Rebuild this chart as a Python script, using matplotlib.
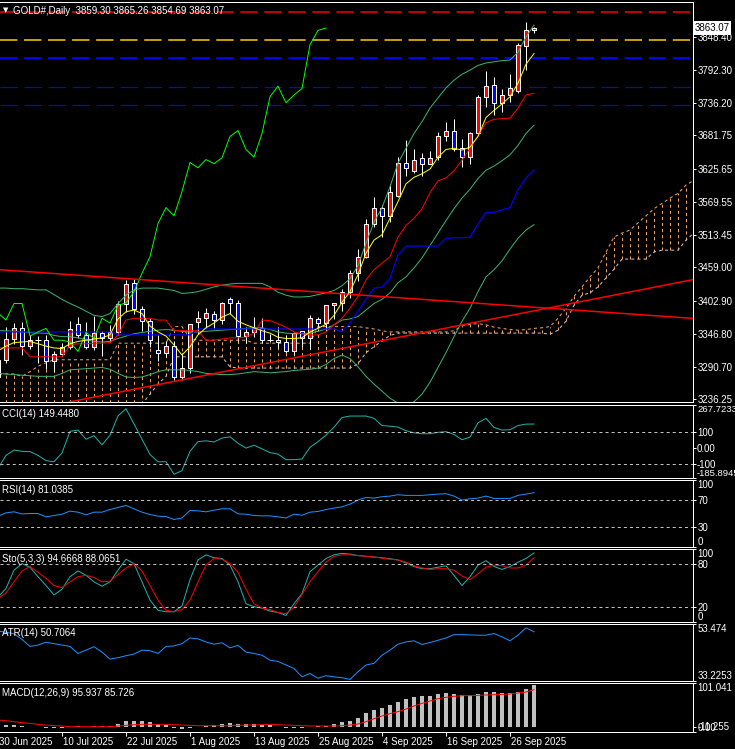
import matplotlib
matplotlib.use("Agg")
import matplotlib.pyplot as plt
from matplotlib.patches import Rectangle

plt.rcParams['font.family'] = ['Liberation Sans', 'DejaVu Sans']
plt.rcParams['lines.scale_dashes'] = False
plt.rcParams['font.size'] = 7

# ---- price data (GOLD#, Daily), bar 0 = 30 Jun 2025 ----
opens = [3274, 3303, 3338, 3357, 3326, 3337, 3336, 3301, 3313, 3324,
         3364, 3345, 3325, 3349, 3339, 3350, 3397, 3432, 3388, 3369,
         3320, 3315, 3327, 3274, 3289, 3367, 3374, 3381, 3370, 3405,
         3398, 3343, 3350, 3356, 3336, 3336, 3333, 3317, 3351, 3339,
         3371, 3365, 3395, 3399, 3418, 3449, 3477, 3533, 3560, 3546,
         3580, 3636, 3622, 3643, 3633, 3645, 3680, 3690, 3660, 3645,
         3686, 3747, 3767, 3737, 3750, 3757, 3833, 3859.30]
highs = [3305, 3358, 3365, 3366, 3345, 3343, 3345, 3318, 3331, 3369,
         3375, 3366, 3377, 3352, 3361, 3402, 3438, 3440, 3394, 3374,
         3345, 3334, 3334, 3315, 3364, 3385, 3390, 3385, 3400, 3409,
         3404, 3358, 3375, 3374, 3347, 3358, 3345, 3350, 3351, 3379,
         3376, 3394, 3398, 3423, 3454, 3490, 3540, 3578, 3564, 3600,
         3646, 3674, 3658, 3652, 3656, 3688, 3705, 3709, 3675, 3687,
         3750, 3791, 3780, 3760, 3785, 3838, 3873, 3865.26]
lows = [3247, 3297, 3330, 3311, 3322, 3297, 3287, 3283, 3309, 3321,
        3340, 3321, 3320, 3310, 3333, 3345, 3383, 3381, 3351, 3325,
        3301, 3308, 3268, 3268, 3281, 3346, 3357, 3356, 3364, 3381,
        3335, 3331, 3342, 3332, 3333, 3323, 3315, 3311, 3324, 3322,
        3352, 3351, 3372, 3385, 3407, 3436, 3475, 3527, 3511, 3536,
        3578, 3613, 3619, 3613, 3633, 3640, 3672, 3655, 3628, 3634,
        3684, 3730, 3717, 3722, 3738, 3753, 3793, 3854.69]
closes = [3303, 3338, 3357, 3326, 3337, 3336, 3301, 3313, 3324, 3355,
          3345, 3325, 3348, 3339, 3350, 3397, 3431, 3388, 3369, 3336,
          3315, 3327, 3274, 3289, 3363, 3374, 3382, 3370, 3398, 3398,
          3343, 3350, 3356, 3336, 3336, 3333, 3317, 3349, 3339, 3373,
          3365, 3395, 3399, 3418, 3449, 3477, 3533, 3560, 3546, 3587,
          3636, 3627, 3641, 3634, 3644, 3680, 3690, 3658, 3645, 3685,
          3747, 3765, 3737, 3750, 3761, 3835, 3859, 3863.07]

# ---- main chart indicators ----
ma_fast = [3318, 3326, 3332, 3333, 3334, 3330, 3326, 3323, 3322, 3330,
           3334, 3336, 3338, 3340, 3345, 3372, 3384, 3387, 3381, 3360,
           3350, 3343, 3328, 3311, 3325, 3345, 3357, 3365, 3375, 3381,
           3368, 3362, 3357, 3352, 3348, 3341, 3339, 3339, 3340, 3350,
           3356, 3363, 3378, 3400, 3418, 3447, 3483, 3505, 3514, 3542,
           3570, 3600, 3611, 3617, 3625, 3645, 3658, 3660, 3657, 3662,
           3680, 3712, 3724, 3735, 3747, 3770, 3802, 3820]
tenkan = [3323, 3323, 3323, 3323, 3308, 3308, 3308, 3308, 3308, 3328,
          3330, 3330, 3331, 3331, 3332, 3345, 3370, 3373, 3373, 3373,
          3370, 3370, 3352, 3352, 3352, 3352, 3336, 3336, 3338, 3340,
          3340, 3341, 3348, 3370, 3369, 3364, 3358, 3350, 3347, 3345,
          3345, 3350, 3362, 3373, 3390, 3410, 3438, 3455, 3466, 3477,
          3510, 3530, 3542, 3558, 3585, 3605, 3610, 3622, 3640, 3660,
          3681, 3703, 3709, 3710, 3711, 3728, 3750, 3753]
kijun = [3350] * 15 + [3345] * 10 + [3355] * 18 + [
         3350, 3365, 3385, 3405, 3424, 3426, 3440, 3480, 3495, 3495,
         3495, 3495, 3495, 3508, 3509, 3509, 3510, 3532, 3552, 3552,
         3556, 3560, 3590, 3610, 3623]
bb_upper = [3424, 3424, 3423, 3423, 3422, 3421, 3421, 3413, 3405, 3398,
            3392, 3385, 3378, 3376, 3381, 3398, 3412, 3421, 3424, 3424,
            3424, 3422, 3420, 3415, 3416, 3418, 3422, 3426, 3429, 3431,
            3432, 3432, 3432, 3432, 3426, 3417, 3412, 3409, 3409, 3410,
            3413, 3416, 3420, 3428, 3440, 3462, 3500, 3535, 3560, 3595,
            3635, 3660, 3685, 3705, 3728, 3745, 3762, 3775, 3785, 3792,
            3800, 3804, 3806, 3808, 3809, 3822, 3848, 3868]
bb_middle = [3352, 3352, 3351, 3350, 3349, 3348, 3348, 3344, 3342, 3342,
             3340, 3337, 3334, 3333, 3334, 3339, 3343, 3347, 3349, 3351,
             3353, 3354, 3353, 3351, 3350, 3350, 3351, 3352, 3353, 3354,
             3355, 3356, 3357, 3357, 3354, 3350, 3348, 3347, 3347, 3348,
             3351, 3355, 3362, 3370, 3372, 3376, 3387, 3398, 3405, 3416,
             3433, 3443, 3458, 3475, 3496, 3517, 3538, 3558, 3576, 3591,
             3609, 3623, 3630, 3639, 3649, 3665, 3685, 3699]
bb_lower = [3280, 3279, 3278, 3277, 3276, 3275, 3275, 3275, 3280, 3286,
            3287, 3288, 3289, 3290, 3287, 3280, 3274, 3273, 3274, 3278,
            3283, 3286, 3286, 3286, 3285, 3283, 3280, 3279, 3278, 3278,
            3279, 3281, 3283, 3282, 3281, 3282, 3283, 3285, 3286, 3287,
            3289, 3295, 3305, 3311, 3305, 3291, 3275, 3262, 3250, 3238,
            3230, 3226, 3232, 3245, 3265, 3290, 3315, 3342, 3368, 3390,
            3418, 3443, 3455, 3470, 3490, 3508, 3522, 3531]
# Senkou spans as drawn (already shifted 26 bars ahead), positions 0..87
span_a = [3279, 3279, 3279, 3275, 3283, 3292, 3298, 3303, 3303, 3303,
          3303, 3303, 3303, 3303, 3303, 3331, 3331, 3331, 3331, 3331,
          3331, 3331, 3359, 3359, 3339, 3336, 3336, 3336, 3336, 3336,
          3336, 3336, 3331, 3331, 3331, 3331, 3331, 3331, 3331, 3331,
          3359, 3359, 3359, 3359, 3359, 3359, 3357, 3355, 3352, 3350,
          3350, 3350, 3350, 3350, 3350, 3350, 3350, 3352, 3360, 3363,
          3364, 3362, 3358, 3356, 3354, 3353, 3354, 3356, 3357, 3359,
          3373, 3390, 3410, 3426, 3443, 3458, 3485, 3510, 3517, 3522,
          3534, 3546, 3558, 3567, 3576, 3584, 3598, 3606]
span_b = [3200] * 18 + [
          3228, 3245, 3262, 3275, 3308, 3308, 3308, 3308, 3308, 3308,
          3308, 3291] + [3289] * 15 + [3296, 3315, 3325, 3335, 3344] + [3348] * 19 + [
          3346, 3353, 3368, 3395, 3412, 3416, 3426, 3441, 3456, 3473,
          3473, 3473, 3473, 3485, 3488, 3488, 3488, 3505, 3517]

# drawn objects: trendline anchors (bar, price) and horizontal levels
trend_down = [(0.25, 3455), (86.75, 3373)]
trend_up = [(9.0, 3232), (86.75, 3438)]
levels = [3889.6, 3842.4, 3812.0, 3763.0, 3732.6]
level_colors = ['#FF0000', '#FFD200', '#0000FF', '#0000FF', '#0000FF']
level_px = [1.5, 1.5, 2, 1.2, 1.2]

price_ticks = [3848.40, 3792.30, 3736.20, 3681.75, 3625.65, 3569.55,
               3513.45, 3459.00, 3402.90, 3346.80, 3290.70, 3236.25]

# ---- sub-window indicators ----
cci = [-127, -45, -12, -20, -22, -45, -78, -85, -30, 104,
       112, 55, 77, 20, 80, 200, 245, 150, 55, -40,
       -85, -85, -163, -140, -20, 40, 45, 38, 62, 70,
       30, 0, 18, -5, -28, -37, -72, -72, -68, 5,
       40, 80, 130, 190, 199, 199, 199, 185, 140, 136,
       130, 108, 95, 89, 89, 98, 102, 85, 52, 68,
       157, 185, 128, 112, 114, 140, 149, 149.448]
rsi = [46, 51, 52.5, 49.4, 50, 50, 45, 47, 49, 53.5,
       52, 48, 52, 52, 56, 59, 62, 57, 52, 48.5,
       46, 45.5, 41, 43.4, 54.5, 54, 52.5, 55, 57, 57,
       49.5, 49, 47, 46.5, 46.5, 45, 43.4, 49, 47.4, 52,
       53, 56, 58, 60, 64, 70, 74, 73, 75, 76,
       78, 77, 77, 77, 78, 79, 79.5, 76, 70, 72,
       73, 76, 72.5, 72.5, 72.5, 77, 79, 81.0385]
sto_main = [34, 46, 71, 80, 75, 62, 50, 37, 45, 62,
            70, 64, 55, 49, 55, 71, 86, 80, 55, 30,
            16, 14, 14, 22, 58, 85, 92, 88, 87, 78,
            55, 25, 21, 19, 15, 13, 9, 25, 39, 69,
            78, 87, 92, 94, 93, 91, 90, 89, 88, 86.6,
            85, 81, 76, 73, 73, 75, 77, 64, 50, 62,
            78, 84, 76, 72, 76, 82, 87, 94.6668]
sto_signal = [32, 40, 55, 70, 76, 68, 60, 50, 47, 55,
              62, 64, 61, 55, 56, 65, 74, 80, 70, 50,
              30, 16, 14, 17, 30, 55, 78, 87, 86, 80,
              68, 45, 25, 19, 17, 13, 11.5, 20, 38, 55,
              69, 82, 90, 92, 92, 91, 90, 89, 87.5, 86,
              85, 82, 77, 74, 72, 73, 73, 71, 63, 58,
              66, 75, 78, 77, 74, 74, 78, 88.0651]
atr = [51, 50.5, 50, 48, 45.5, 46, 47, 46.5, 46, 45.5,
       43, 44.2, 45.4, 43.5, 41, 41.5, 42.2, 42.8, 44.2, 44,
       43, 45.5, 45.7, 46.5, 48.5, 48.2, 47.1, 46.3, 46.8, 45,
       45.9, 43.5, 43, 42.4, 40.6, 40.2, 38.9, 37.7, 34.7, 35.9,
       34.2, 35.1, 34.7, 34.4, 33.8, 36.5, 38.9, 39.5, 42.4, 44.2,
       46.3, 47.1, 47.5, 46.2, 46.9, 47.7, 48.5, 49.7, 49.7, 49.6,
       49.5, 49.5, 50.1, 48.9, 47.5, 49.5, 52.1, 50.7064]
macd = [6, 5.5, 4.7, 3.2, 0.9, 0.9, -1.4, -2.1, -2.1, 0.2,
        1.7, 0.2, 1.7, 1.7, 1.7, 6.3, 13.9, 14.7, 14.7, 12.4,
        7.0, 4.7, -2.1, -4.4, -2.9, 0.9, 3.2, 4.7, 7.0, 8.6,
        6.3, 6.3, 6.3, 4.7, 4.7, 0.9, -2.1, -2.9, -2.1, 0.2,
        1.7, 3.2, 6.3, 12.4, 14.7, 21.5, 31.5, 39.1, 44.5, 50.6,
        58.2, 64.3, 68.9, 72, 72, 75.8, 78.8, 75.8, 73.5, 73.5,
        75.8, 79.6, 79.6, 77.3, 77.3, 81.1, 87.3, 95.937]
macd_signal = [16.2, 14.7, 12.4, 10.1, 8.6, 6.3, 4.7, 3.2, 2.5, 0.9,
               0.9, 0.9, 0.9, 0.9, 0.9, 2.5, 4.0, 5.5, 6.3, 6.3,
               6.3, 6.3, 5.5, 4.7, 4.0, 3.2, 3.2, 3.2, 3.2, 3.2,
               4.0, 4.7, 4.7, 5.5, 6.3, 5.5, 4.7, 4.0, 3.2, 2.5,
               2.5, 2.5, 2.5, 3.2, 4.7, 7.0, 12.4, 19.3, 25.4, 30.7,
               35.3, 41.4, 48.3, 54.4, 59.7, 65.1, 68.2, 70.4, 72, 72,
               72.7, 73.5, 74.3, 75, 75.8, 78.1, 80.4, 85.726]

date_labels = ['30 Jun 2025', '10 Jul 2025', '22 Jul 2025', '1 Aug 2025', '13 Aug 2025',
               '25 Aug 2025', '4 Sep 2025', '16 Sep 2025', '26 Sep 2025']
date_bars = [0, 8, 16, 24, 32, 40, 48, 56, 64]

# ---- figure ----
W, H = 735, 749
PX = 0.72  # one pixel in points at 100 dpi
fig = plt.figure(figsize=(W / 100, H / 100), dpi=100, facecolor='black')
bars = list(range(len(closes)))
dot = (0, (2.2, 2.2))


def pane(top, bottom):
    ax = fig.add_axes([0, 1 - bottom / H, 693 / W, (bottom - top) / H])
    ax.set_facecolor('black')
    for sp in ax.spines.values():
        sp.set_color('white')
        sp.set_linewidth(PX)
    ax.spines['left'].set_visible(False)
    ax.set_xticks([])
    ax.yaxis.tick_right()
    ax.tick_params(axis='y', colors='white', length=2.2, width=PX, pad=1.2, labelsize=7)
    return ax


def right_labels(ax, vals, texts, lo, hi, top_i=None, bot_i=None, edge_size=None):
    ax.set_yticks(vals)
    ax.set_yticklabels(texts)
    labs = ax.get_yticklabels()
    if top_i is not None:
        labs[top_i].set_va('top')
        if edge_size:
            labs[top_i].set_fontsize(edge_size)
    if bot_i is not None:
        labs[bot_i].set_va('bottom')
        if edge_size:
            labs[bot_i].set_fontsize(edge_size)
    ax.set_ylim(lo, hi)
    ax.set_xlim(0.25, 86.875)


# main window
ax = pane(2, 402)
span_x = list(range(len(span_a)))
for j in span_x:
    a, b = span_a[j], span_b[j]
    col = '#F4A460' if a >= b else '#D8BFD8'
    ax.vlines(j, min(a, b), max(a, b), colors=col, linestyles=dot, lw=PX, zorder=1)
ax.plot(span_x, span_a, color='#F4A460', ls=dot, lw=PX, zorder=2)
ax.plot(span_x, span_b, color='#D8BFD8', ls=dot, lw=PX, zorder=2)

for lv, c, w in zip(levels, level_colors, level_px):
    ax.axhline(lv, color=c, lw=w * PX, ls=(0, (12.5, 4.8)), zorder=2)

for i in bars:
    o, hi_, lo_, c = opens[i], highs[i], lows[i], closes[i]
    ax.vlines(i, lo_, hi_, colors='white', lw=PX, zorder=4)
    if abs(c - o) < 1.5:
        ax.hlines(c, i - 0.32, i + 0.32, colors='white', lw=PX, zorder=5)
    else:
        ax.add_patch(Rectangle((i - 0.31, min(o, c)), 0.62, abs(c - o),
                               facecolor='#FF0000' if c > o else '#0000FF',
                               edgecolor='white', lw=PX, zorder=5))

ax.plot(bars, bb_upper, color='#3CB371', lw=PX, zorder=6)
ax.plot(bars, bb_middle, color='#3CB371', lw=PX, zorder=6)
ax.plot(bars, bb_lower, color='#3CB371', lw=PX, zorder=6)
ax.plot(bars, kijun, color='#0000FF', lw=PX * 1.2, zorder=6)
ax.plot(bars, tenkan, color='#FF0000', lw=PX, zorder=6)
ax.plot(bars, ma_fast, color='#FFFF00', lw=PX, zorder=7)
ax.plot(bars[:len(closes) - 26], closes[26:], color='#00FF00', lw=PX, zorder=6)
ax.axline(trend_down[0], trend_down[1], color='#FF0000', lw=1.5 * PX, zorder=6)
ax.axline(trend_up[0], trend_up[1], color='#FF0000', lw=1.5 * PX, zorder=6)

right_labels(ax, price_ticks, ['%.2f' % p for p in price_ticks], 3231.7, 3907.0)
ax.text(1 + 1.5 / 693, closes[-1], '%.2f' % closes[-1], transform=ax.get_yaxis_transform(),
        color='black', va='center', ha='left', fontsize=7, clip_on=False, zorder=10,
        bbox=dict(facecolor='white', edgecolor='none', pad=1.2))

fig.text(3 / W, 1 - 10.5 / H, '\u25bc', color='white', fontsize=5, va='center',
         family=['DejaVu Sans'])
fig.text(13 / W, 1 - 10.7 / H, 'GOLD#,Daily  %.2f %.2f %.2f %.2f'
         % (opens[-1], highs[-1], lows[-1], closes[-1]), color='white', va='center', fontsize=7)

# CCI
ax = pane(405, 478)
ax.plot(bars, cci, color='#20B2AA', lw=PX)
for lv in (100, -100):
    ax.axhline(lv, color='#C0C0C0', lw=PX, ls=dot)
ax.tick_params(axis='y', pad=0.7)
right_labels(ax, [267.7233, 100, 0, -100, -185.8945],
             ['267.7233', '100', '0.00', '-100', '-185.8945'], -185.8945, 267.7233, 0, 4,
             edge_size=6.8)
fig.text(2 / W, 1 - 414 / H, 'CCI(14) %.4f' % cci[-1], color='white', va='center', fontsize=7)

# RSI
ax = pane(480, 547)
ax.plot(bars, rsi, color='#1E90FF', lw=PX)
for lv in (70, 30):
    ax.axhline(lv, color='#C0C0C0', lw=PX, ls=dot)
right_labels(ax, [100, 70, 30, 0], ['100', '70', '30', '0'], 0, 100, 0, 3)
fig.text(2 / W, 1 - 490 / H, 'RSI(14) %.4f' % rsi[-1], color='white', va='center', fontsize=7)

# Stochastic
ax = pane(549, 622)
ax.plot(bars, sto_main, color='#20B2AA', lw=PX)
ax.plot(bars, sto_signal, color='#FF0000', lw=PX)
for lv in (80, 20):
    ax.axhline(lv, color='#C0C0C0', lw=PX, ls=dot)
right_labels(ax, [100, 80, 20, 0], ['100', '80', '20', '0'], 0, 100, 0, 3)
fig.text(2 / W, 1 - 559 / H, 'Sto(5,3,3) %.4f %.4f' % (sto_main[-1], sto_signal[-1]),
         color='white', va='center', fontsize=7)

# ATR
ax = pane(624, 681)
ax.plot(bars, atr, color='#1E90FF', lw=PX)
right_labels(ax, [53.474, 33.2253], ['53.474', '33.2253'], 33.2253, 53.474, 0, 1)
fig.text(2 / W, 1 - 633 / H, 'ATR(14) %.4f' % atr[-1], color='white', va='center', fontsize=7)

# MACD
ax = pane(683, 732)
ax.bar(bars, macd, width=0.4, color='#C0C0C0', zorder=2)
ax.plot(bars, macd_signal, color='#FF0000', lw=PX, zorder=3)
right_labels(ax, [101.041, 0, -11.255], ['101.041', '0.00', '-11.255'], -11.255, 101.041, 0, 2)
fig.text(2 / W, 1 - 693 / H, 'MACD(12,26,9) %.3f %.3f' % (macd[-1], macd_signal[-1]),
         color='white', va='center', fontsize=7)
ax.set_xticks([b for b in date_bars if b >= 0.25])
ax.tick_params(axis='x', colors='white', length=2.9, width=PX, labelbottom=False)
for lab, b in zip(date_labels, date_bars):
    ax.annotate(lab, xy=(b, 0), xycoords=('data', 'axes fraction'), xytext=(1.2 * PX, -9.7 * PX),
                textcoords='offset points', color='white', ha='left', va='center',
                fontsize=7, annotation_clip=False)

fig.savefig('out.png', dpi=100, facecolor='black')
